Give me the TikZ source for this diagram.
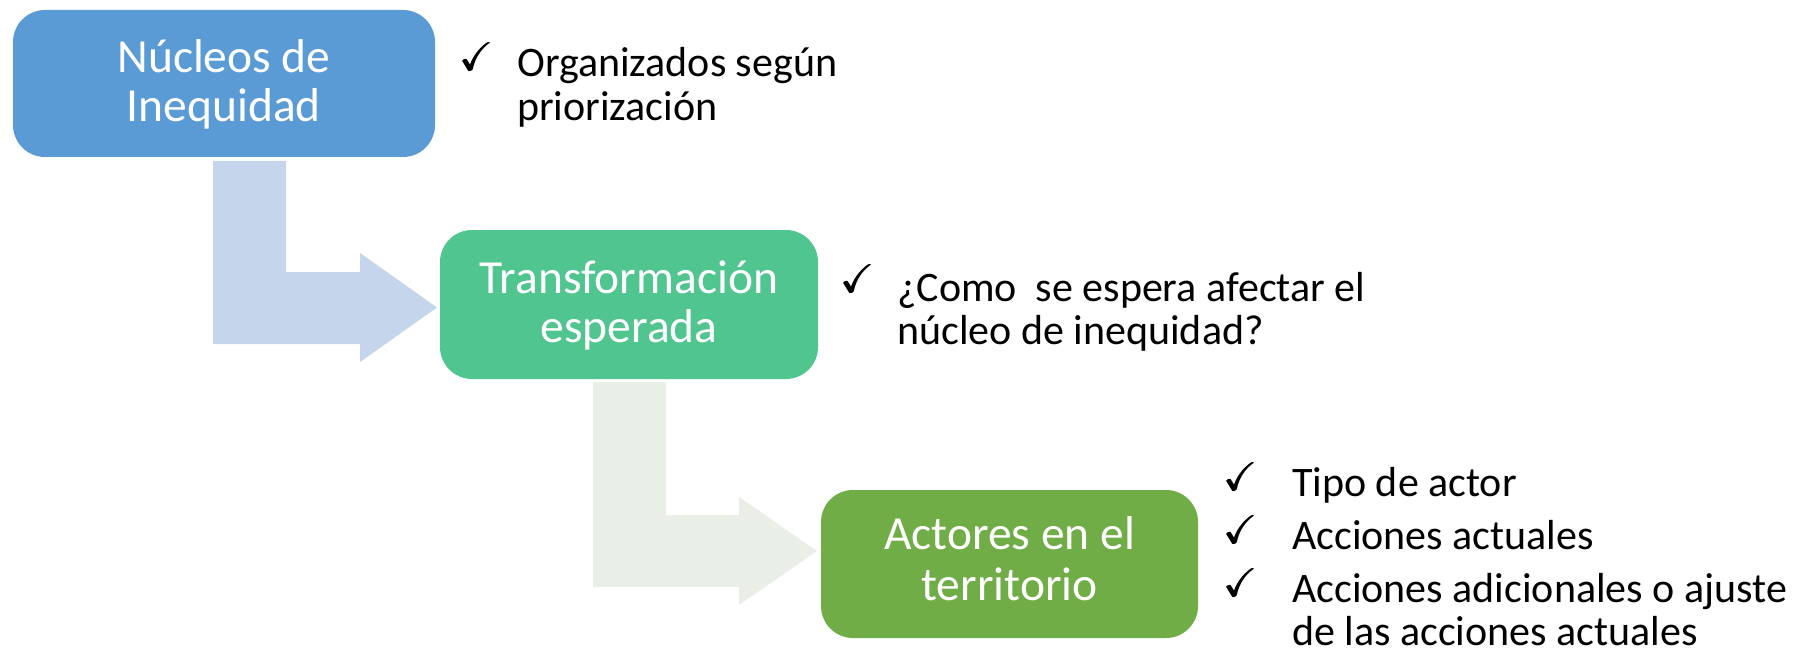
\documentclass[tikz,border=0pt]{standalone}
\usepackage{amssymb}
\usepackage{fontspec}
\setmainfont{Carlito}
\definecolor{boxA}{HTML}{5B9BD5}
\definecolor{boxB}{HTML}{50C58F}
\definecolor{boxC}{HTML}{70AD47}
\definecolor{arrA}{HTML}{C5D5EB}
\definecolor{arrB}{HTML}{E9EFE7}
\newcommand\thickcheck{\rlap{$\checkmark$}\kern0.7pt\rlap{$\checkmark$}\kern0.7pt$\checkmark$}
\begin{document}
\begin{tikzpicture}[x=1pt,y=-1pt,
  box/.style={draw=none, rounded corners=32pt, inner sep=0pt},
  boxtext/.style={anchor=base, inner sep=0pt, text=white, font=\fontsize{47.5}{50}\selectfont},
  chk/.style={anchor=south west, inner sep=0pt, font=\fontsize{40}{44}\selectfont},
  txt/.style={anchor=base west, inner sep=0pt, text=black, font=\fontsize{42}{46}\selectfont}]
\useasboundingbox (0,0) rectangle (1801,655);
% bent arrows
\fill[arrA] (213,161) -- (286,161) -- (286,272) -- (360,272) -- (360,253) -- (437,307.5)
  -- (360,362) -- (360,344) -- (213,344) -- cycle;
\fill[arrB] (593,382) -- (666,382) -- (666,515) -- (739,515) -- (739,497) -- (817,551)
  -- (739,605) -- (739,587) -- (593,587) -- cycle;
% boxes
\node[box, fill=boxA, minimum width=422pt, minimum height=147pt] (n1) at (224,83.5) {};
\node[box, fill=boxB, minimum width=378pt, minimum height=149pt] (n2) at (629,304.5) {};
\node[box, fill=boxC, minimum width=377pt, minimum height=148pt] (n3) at (1009.5,564) {};
\node[boxtext] (n1a) at (224,73) {Núcleos de};
\node[boxtext] (n1b) at (224,122) {Inequidad};
\node[boxtext] (n2a) at (629,293) {Transformación};
\node[boxtext] (n2b) at (629,342) {esperada};
\node[boxtext] (n3a) at (1009.5,549) {Actores en el};
\node[boxtext] (n3b) at (1009.5,600) {territorio};
% notes
\node[chk] (k1) at (459,71) {\thickcheck};
\node[txt] (t1a) at (517,77) {Organizados según};
\node[txt] (t1b) at (517,121) {priorización};
\node[chk] (k2) at (840,293) {\thickcheck};
\node[txt] (t2a) at (897,301) {¿Como \ se espera afectar el};
\node[txt] (t2b) at (897,344) {núcleo de inequidad?};
\node[chk] (k3) at (1223,491) {\thickcheck};
\node[txt] (t3a) at (1292,496) {Tipo de actor};
\node[chk] (k4) at (1223,544) {\thickcheck};
\node[txt] (t3b) at (1292,549) {Acciones actuales};
\node[chk] (k5) at (1223,597) {\thickcheck};
\node[txt] (t3c) at (1292,602) {Acciones adicionales o ajuste};
\node[txt] (t3d) at (1292,645) {de las acciones actuales};
\end{tikzpicture}
\end{document}
